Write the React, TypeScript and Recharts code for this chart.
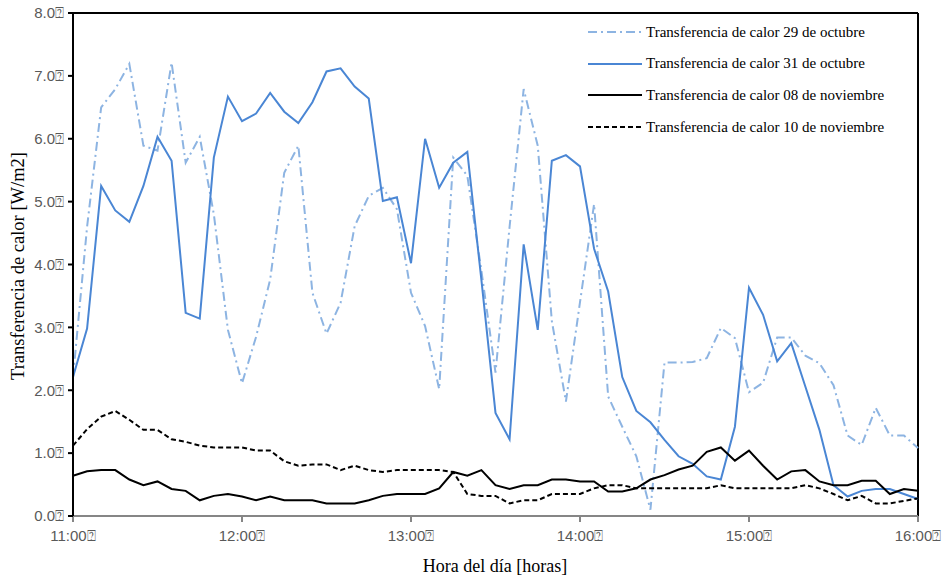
import React from 'react';
import { LineChart, Line, XAxis, YAxis, ReferenceLine } from 'recharts';

// minutes after 11:00, one reading every 5 minutes
const minutes = Array.from({ length: 61 }, (_, i) => i * 5);

const oct29 = [
  2.2, 4.6, 6.5, 6.79, 7.19, 5.89, 5.81, 7.21, 5.62, 6.03,
  4.8, 2.96, 2.11, 2.85, 3.76, 5.46, 5.89, 3.55, 2.9, 3.39,
  4.61, 5.09, 5.22, 4.88, 3.55, 3.02, 2.02, 5.7, 5.41, 3.9,
  2.28, 4.6, 6.79, 5.89, 3.1, 1.82, 3.4, 4.96, 1.9, 1.42,
  0.95, 0.1, 2.44, 2.44, 2.45, 2.51, 2.99, 2.83, 1.97, 2.12,
  2.84, 2.84, 2.55, 2.43, 2.08, 1.28, 1.13, 1.72, 1.28, 1.28, 1.08,
];

const oct31 = [
  2.21, 2.98, 5.25, 4.86, 4.68, 5.25, 6.03, 5.65, 3.23, 3.14,
  5.7, 6.67, 6.28, 6.4, 6.73, 6.43, 6.25, 6.58, 7.07, 7.12,
  6.83, 6.64, 5.01, 5.07, 4.02, 6.0, 5.22, 5.62, 5.79, 3.75,
  1.64, 1.22, 4.32, 2.96, 5.65, 5.74, 5.56, 4.25, 3.57, 2.21,
  1.67, 1.49, 1.21, 0.95, 0.83, 0.63, 0.58, 1.42, 3.63, 3.2,
  2.46, 2.75, 2.06, 1.37, 0.49, 0.31, 0.4, 0.43, 0.43, 0.35, 0.27,
];

const nov08 = [
  0.64, 0.71, 0.73, 0.73, 0.58, 0.49, 0.55, 0.43, 0.4, 0.25,
  0.32, 0.35, 0.31, 0.25, 0.31, 0.25, 0.25, 0.25, 0.2, 0.2,
  0.2, 0.25, 0.32, 0.35, 0.35, 0.35, 0.44, 0.7, 0.64, 0.73,
  0.49, 0.43, 0.49, 0.49, 0.58, 0.58, 0.55, 0.55, 0.39, 0.39,
  0.44, 0.58, 0.65, 0.74, 0.8, 1.02, 1.09, 0.88, 1.04, 0.8,
  0.58, 0.71, 0.73, 0.55, 0.49, 0.49, 0.56, 0.56, 0.35, 0.43, 0.4,
];

const nov10 = [
  1.12, 1.38, 1.58, 1.67, 1.53, 1.37, 1.37, 1.22, 1.18, 1.12,
  1.09, 1.09, 1.09, 1.04, 1.04, 0.87, 0.8, 0.82, 0.82, 0.73,
  0.8, 0.73, 0.7, 0.73, 0.73, 0.73, 0.73, 0.7, 0.35, 0.32,
  0.32, 0.2, 0.25, 0.25, 0.35, 0.35, 0.35, 0.44, 0.49, 0.49,
  0.44, 0.44, 0.44, 0.44, 0.44, 0.44, 0.49, 0.44, 0.44, 0.44,
  0.44, 0.44, 0.49, 0.44, 0.35, 0.25, 0.32, 0.2, 0.2, 0.24, 0.28,
];

const xTicks = [0, 60, 120, 180, 240, 300];
const xTickLabels = ['11:00', '12:00', '13:00', '14:00', '15:00', '16:00'];
const yTicks = [0, 1, 2, 3, 4, 5, 6, 7, 8];

const series = [
  { key: 'oct29', name: 'Transferencia de calor 29 de octubre', color: '#8DB4E2', dash: '9 4 2 4' },
  { key: 'oct31', name: 'Transferencia de calor 31 de octubre', color: '#4A86D4', dash: undefined },
  { key: 'nov08', name: 'Transferencia de calor 08 de noviembre', color: '#000000', dash: undefined },
  { key: 'nov10', name: 'Transferencia de calor 10 de noviembre', color: '#000000', dash: '5 3' },
];

const data = minutes.map((t, i) => ({
  t,
  oct29: oct29[i],
  oct31: oct31[i],
  nov08: nov08[i],
  nov10: nov10[i],
}));

const BOX = '\u2370';
const tickFont = "'Liberation Sans Narrow', 'Liberation Sans', Arial, sans-serif";
const serif = "'Liberation Serif', 'Times New Roman', serif";

export default function App() {
  return (
    <div style={{ position: 'absolute', left: 0, top: 0, width: 947, height: 577, background: '#fff' }}>
      <LineChart
        width={947}
        height={577}
        data={data}
        margin={{ top: 13, right: 29, left: 8, bottom: 31 }}
      >
        <XAxis
          dataKey="t"
          type="number"
          domain={[0, 300]}
          ticks={xTicks}
          tickFormatter={(v: number) => xTickLabels[xTicks.indexOf(v)] + BOX}
          height={30}
          stroke="#868686"
          strokeWidth={2}
          tickSize={6}
          tickMargin={8}
          tick={{ fill: '#595959', fontSize: 15, fontFamily: tickFont }}
        />
        <YAxis
          type="number"
          domain={[0, 8]}
          ticks={yTicks}
          width={65}
          tickFormatter={(v: number) => v.toFixed(1) + BOX}
          stroke="#000"
          strokeWidth={2}
          tickSize={5}
          tickMargin={4}
          tick={{ fill: '#595959', fontSize: 15, fontFamily: tickFont }}
        />
        <ReferenceLine y={8} stroke="#000" strokeWidth={2} />
        <ReferenceLine x={300} stroke="#000" strokeWidth={2} />
        {series.map((s) => (
          <Line
            key={s.key}
            type="linear"
            dataKey={s.key}
            name={s.name}
            stroke={s.color}
            strokeWidth={2}
            strokeDasharray={s.dash}
            dot={false}
            activeDot={false}
            isAnimationActive={false}
          />
        ))}
      </LineChart>

      <div style={{ position: 'absolute', left: 588, top: 22 }}>
        {series.map((s, i) => (
          <div key={s.key} style={{ position: 'absolute', top: i * 31.7, left: 0, height: 20, display: 'flex', alignItems: 'center', whiteSpace: 'nowrap' }}>
            <svg width={54} height={20}>
              <line x1={0} y1={10} x2={54} y2={10} stroke={s.color} strokeWidth={2} strokeDasharray={s.dash} />
            </svg>
            <span style={{ marginLeft: 4, fontFamily: serif, fontSize: 15, color: '#000' }}>{s.name}</span>
          </div>
        ))}
      </div>

      <div
        style={{
          position: 'absolute',
          left: 18,
          top: 266,
          transform: 'translate(-50%, -50%) rotate(-90deg)',
          whiteSpace: 'nowrap',
          fontFamily: serif,
          fontSize: 18.5,
          color: '#000',
        }}
      >
        Transferencia de calor [W/m2]
      </div>
      <div
        style={{
          position: 'absolute',
          left: 495,
          top: 566,
          transform: 'translate(-50%, -50%)',
          whiteSpace: 'nowrap',
          fontFamily: serif,
          fontSize: 18,
          color: '#000',
        }}
      >
        Hora del día [horas]
      </div>
    </div>
  );
}
